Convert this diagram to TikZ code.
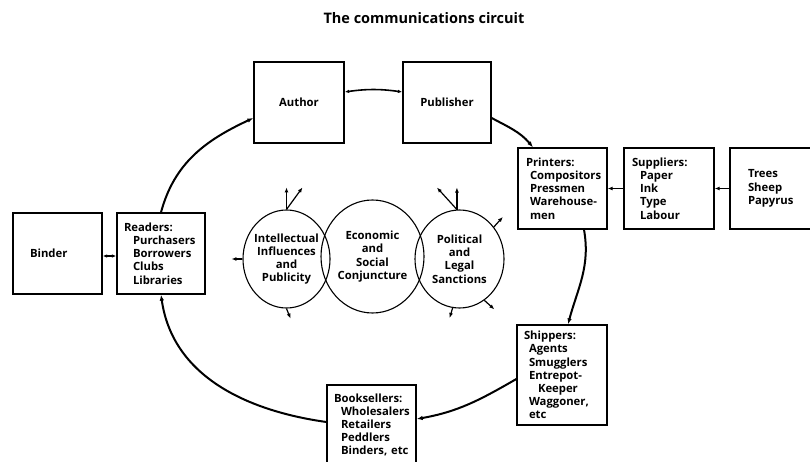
\documentclass[tikz,border=0pt]{standalone}
\usepackage{fontspec}
\setmainfont{Open Sans}
\usetikzlibrary{arrows.meta,shapes.geometric}
\newcommand{\ind}[1]{\hspace*{#1}}
\begin{document}
\lefthyphenmin=64
\hyphenpenalty=10000
\begin{tikzpicture}[x=1pt,y=-1pt,
  every node/.style={font=\fontsize{11.3}{13.2}\selectfont\bfseries},
  box/.style={draw, line width=1.3pt, minimum height=81pt, align=left, inner ysep=0pt},
  circ/.style={draw, ellipse, line width=1.1pt, inner sep=0pt},
  flow/.style={line width=2pt, -{Latex[length=6pt,width=4.5pt]}},
  radiate/.style={line width=1.2pt, -{Latex[length=5pt,width=4pt]}},
  link/.style={line width=1.4pt, -{Latex[length=5pt,width=4pt]}},
  twoway/.style={line width=1.6pt, {Latex[length=4.5pt,width=3.5pt]}-{Latex[length=4.5pt,width=3.5pt]}},
]
\useasboundingbox (0,0) rectangle (810,462);
\clip (0,0) rectangle (810,462);

\node[font=\fontsize{14.5}{16}\selectfont\bfseries] (title) at (424,18) {The communications circuit};

% boxes
\node[box, inner xsep=0pt, text width=90pt, align=center] (author) at (299,102.5) {Author};
\node[box, inner xsep=0pt, text width=88pt, align=center] (publisher) at (447,102.5) {Publisher};
\node[box, inner xsep=17pt, text width=55pt] (binder) at (57.5,253.5) {Binder};
\node[box, inner xsep=7pt, text width=74pt] (readers) at (161,253.5)
  {Readers:\\\ind{9pt}Purchasers\\\ind{9pt}Borrowers\\\ind{9pt}Clubs\\\ind{9pt}Libraries};
\node[box, inner xsep=8pt, text width=73pt] (printers) at (562.5,188.5)
  {Printers:\\\ind{4pt}\mbox{Compositors}\\\ind{4pt}Pressmen\\\ind{4pt}\mbox{Warehouse-}\\\ind{4pt}men};
\node[box, inner xsep=8pt, text width=74pt] (suppliers) at (669,188.5)
  {Suppliers:\\\ind{8pt}Paper\\\ind{8pt}Ink\\\ind{8pt}Type\\\ind{8pt}Labour};
\node[box, inner xsep=18pt, text width=53pt] (trees) at (774.5,188.5)
  {Trees\\Sheep\\Papyrus};
\node[box, inner xsep=7pt, text width=76pt, minimum height=100pt] (shippers) at (562,375)
  {Shippers:\\\ind{5pt}Agents\\\ind{5pt}\mbox{Smugglers}\\\ind{5pt}\mbox{Entrepot-}\\\ind{14pt}Keeper\\\ind{5pt}\mbox{Waggoner,}\\\ind{5pt}etc};
\node[box, inner xsep=7pt, text width=75pt, minimum height=80pt] (booksellers) at (371.5,425)
  {\mbox{Booksellers:}\\\ind{7pt}\mbox{Wholesalers}\\\ind{7pt}Retailers\\\ind{7pt}Peddlers\\\ind{7pt}\mbox{Binders, etc}};

% circles
\node[circ, minimum width=87pt, minimum height=98pt] (lc) at (286.5,259) {};
\node[circ, minimum width=103pt, minimum height=113pt] (mc) at (372.5,256.5) {};
\node[circ, minimum width=89pt, minimum height=98pt] (rc) at (459.5,259) {};
\node[align=center] (lct) at (lc) {Intellectual\\Influences\\and\\Publicity};
\node[align=center] (mct) at (mc) {Economic\\and\\Social\\Conjuncture};
\node[align=center] (rct) at (rc) {Political\\and\\Legal\\Sanctions};

% circuit
\draw[flow] (readers.north) to[out=75,in=205] ([yshift=-15.5pt]author.west);
\draw[twoway] ([yshift=10.5pt]author.east) to[bend left=8] ([yshift=10.5pt]publisher.west);
\draw[flow] ([yshift=-15.5pt]publisher.east) to[out=-28,in=130] ([xshift=-29.5pt]printers.north);
\draw[flow] ([xshift=21.5pt]printers.south) to[out=-80,in=75] ([xshift=6pt]shippers.north);
\draw[flow] ([yshift=-4pt]shippers.west) to[out=210,in=10] ([yshift=6pt]booksellers.east);
\draw[flow] ([yshift=3pt]booksellers.west) to[out=172,in=-82] (readers.south);
\draw[twoway] ([yshift=-2.5pt]binder.east) -- ([yshift=-2.5pt]readers.west);
\draw[link] (suppliers.west) -- (printers.east);
\draw[link] (trees.west) -- (suppliers.east);

% radiating arrows
\draw[radiate] (lc.north) -- ++(0,-22);
\draw[radiate] (lc.north) -- ++(16,-22);
\draw[radiate] (lc.west) -- ++(-11,0);
\draw[radiate] (lc.south) -- ++(4,10);
\draw[radiate] (rc.93) -- ++(0,-22);
\draw[radiate] (rc.93) -- ++(-20,-22);
\draw[radiate] (rc.43) -- ++(9,-10);
\draw[radiate] (rc.-59) -- ++(10,9);
\draw[radiate] (rc.-98) -- ++(-3,10);
\end{tikzpicture}
\end{document}
